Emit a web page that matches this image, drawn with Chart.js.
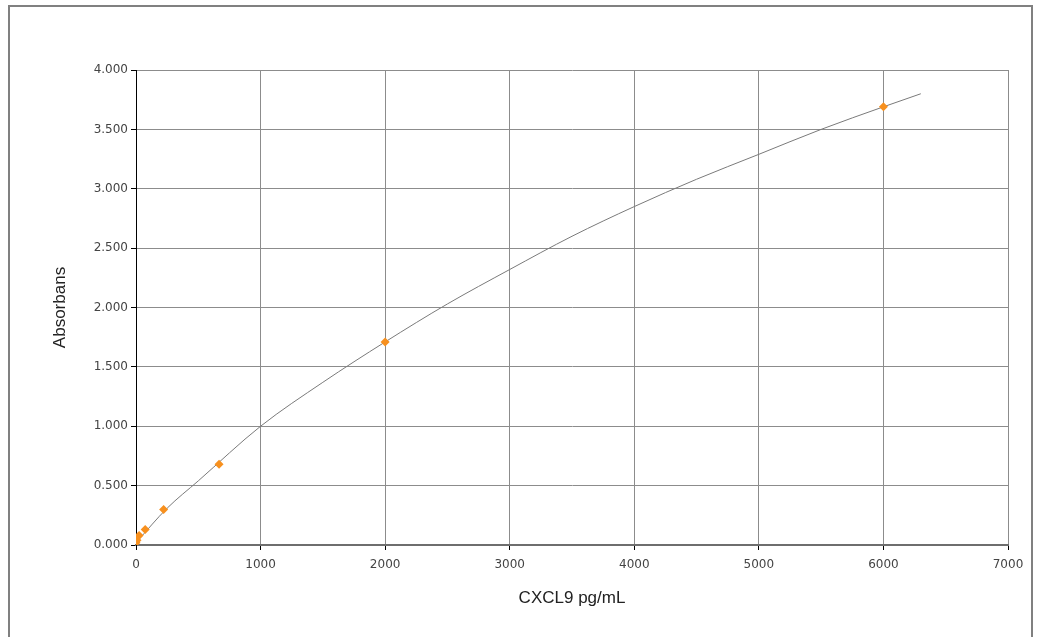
<!DOCTYPE html>
<html>
<head>
<meta charset="utf-8">
<script src="https://cdn.jsdelivr.net/npm/chart.js@4/dist/chart.umd.min.js"></script>
<style>
  html, body { margin: 0; padding: 0; background: #fff; }
  #frame {
    position: absolute; left: 8px; top: 5px;
    width: 1021px; height: 650px;
    border: 2px solid #808080;
  }
  #wrap { position: absolute; left: 0; top: 0; width: 1037px; height: 637px; }
</style>
</head>
<body>
<div id="frame"></div>
<div id="wrap"><canvas id="stdChart" width="1037" height="637"></canvas></div>
<script>
// Standards (measured points)
const standardConc = [0, 8, 25, 74, 222, 667, 2000, 6000];
const standardAbs = [0.02, 0.04, 0.08, 0.13, 0.30, 0.68, 1.71, 3.69];

// Fitted curve
const curveConc = [0, 250, 500, 1000, 1500, 2000, 2500, 3000, 3500, 4000, 4500, 5000, 5500, 6000, 6300];
const curveAbs = [0.02, 0.31, 0.54, 1.00, 1.37, 1.71, 2.03, 2.32, 2.60, 2.85, 3.08, 3.29, 3.50, 3.69, 3.80];

const xTicks = [0, 1000, 2000, 3000, 4000, 5000, 6000, 7000];
const yTicks = [0, 0.5, 1, 1.5, 2, 2.5, 3, 3.5, 4];

const toPoints = (xs, ys) => xs.map((x, i) => ({ x: x, y: ys[i] }));

const StdCurve = {
    init() {
        const ctx = document.getElementById('stdChart');
        new Chart(ctx, {
            type: 'scatter',
            data: {
                datasets: [{
                    label: 'Curve',
                    data: toPoints(curveConc, curveAbs),
                    showLine: true,
                    borderColor: '#7a7a7a',
                    borderWidth: 1,
                    pointRadius: 0,
                    cubicInterpolationMode: 'monotone',
                    order: 2
                }, {
                    label: 'Standards',
                    data: toPoints(standardConc, standardAbs),
                    pointStyle: 'rectRot',
                    pointRadius: 4.5,
                    backgroundColor: '#f7901e',
                    borderColor: '#f7901e',
                    borderWidth: 0,
                    order: 1
                }]
            },
            options: {
                responsive: false,
                animation: false,
                layout: { padding: { left: 0, top: 70, right: 29, bottom: 0 } },
                plugins: { legend: { display: false }, tooltip: { enabled: false } },
                scales: {
                    x: {
                        type: 'linear',
                        min: 0, max: 7000,
                        afterFit(scale) { scale.height = 92; },
                        afterBuildTicks(scale) { scale.ticks = xTicks.map(v => ({ value: v })); },
                        border: { color: '#6e6e6e', width: 2 },
                        grid: { color: '#8c8c8c', lineWidth: 1, tickLength: 5, tickColor: '#000' },
                        ticks: {
                            color: '#444',
                            font: { family: 'DejaVu Sans', size: 12 },
                            padding: 8,
                            maxRotation: 0,
                            callback: v => String(v)
                        },
                        title: {
                            display: true,
                            text: 'CXCL9 pg/mL',
                            color: '#222',
                            font: { family: 'Liberation Sans', size: 17 },
                            padding: { top: 0, bottom: 28 }
                        }
                    },
                    y: {
                        type: 'linear',
                        min: 0, max: 4,
                        afterFit(scale) { scale.width = 136; },
                        afterBuildTicks(scale) { scale.ticks = yTicks.map(v => ({ value: v })); },
                        border: { color: '#000', width: 1 },
                        grid: { color: '#8c8c8c', lineWidth: 1, tickLength: 5, tickColor: '#000' },
                        ticks: {
                            color: '#444',
                            font: { family: 'DejaVu Sans', size: 12 },
                            padding: 3,
                            callback: v => v.toFixed(3)
                        },
                        title: {
                            display: true,
                            text: 'Absorbans',
                            color: '#222',
                            font: { family: 'Liberation Sans', size: 17 },
                            padding: { top: 50, bottom: 0 }
                        }
                    }
                }
            }
        });
    }
};

document.addEventListener('DOMContentLoaded', () => {
    StdCurve.init();
});
</script>
</body>
</html>
